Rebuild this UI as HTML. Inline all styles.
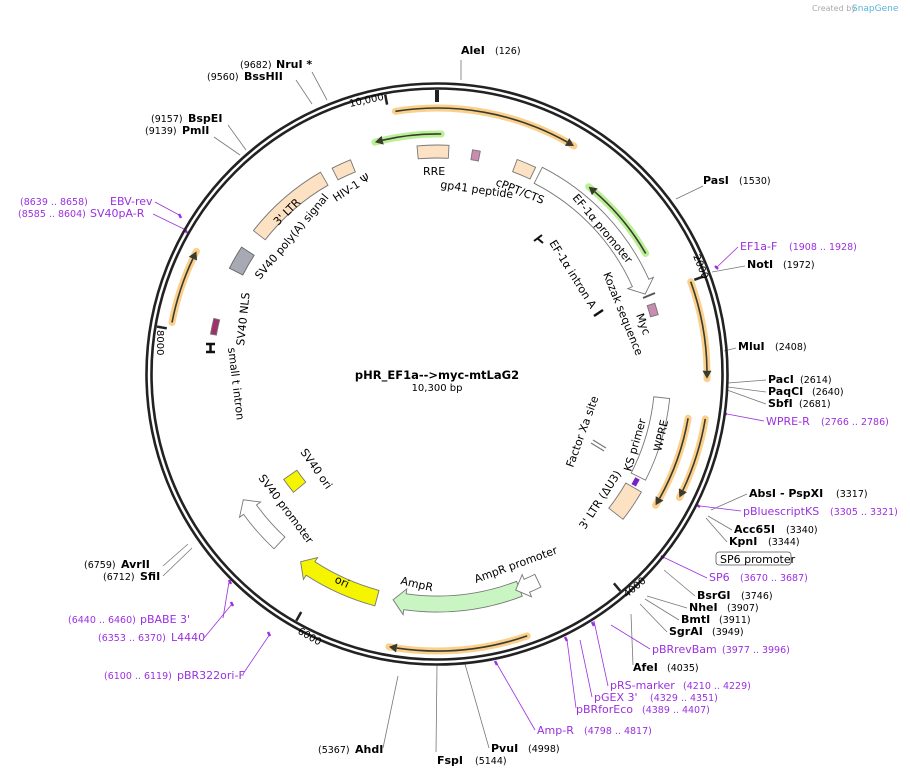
<!DOCTYPE html>
<html><head><meta charset="utf-8"><style>
body{margin:0;background:#fff;}
svg{display:block;font-family:"DejaVu Sans","Liberation Sans",sans-serif;}
.b{font-weight:bold;font-size:11px;fill:#000}
.n{font-size:9.5px;fill:#000}
.p{font-size:11px;fill:#9b30e0}
.pn{font-size:9.5px;fill:#9b30e0}
.f{font-size:11px;fill:#000}
</style></head><body>
<svg id="s" width="910" height="777" viewBox="0 0 910 777" xmlns="http://www.w3.org/2000/svg">
<text x="812" y="11" style="font-size:8px;fill:#aaa">Created by</text><text x="852" y="11" style="font-size:9px;fill:#5ab4d6">SnapGene</text>
<g id="lines" stroke="#777" stroke-width="0.8" fill="none">
<line x1="461" y1="60" x2="461" y2="80"/>
<line x1="296" y1="80" x2="312" y2="104"/><line x1="312" y1="72" x2="327" y2="100"/>
<line x1="228" y1="125" x2="246" y2="150"/><line x1="214" y1="137" x2="240" y2="155"/>
<line x1="703" y1="186" x2="676" y2="199"/>
<line x1="745" y1="266" x2="712" y2="272"/>
<line x1="736" y1="348" x2="724" y2="351"/>
<line x1="766" y1="380" x2="728" y2="383"/><line x1="766" y1="392" x2="728" y2="387"/><line x1="766" y1="404" x2="727" y2="390"/>
<line x1="747" y1="494" x2="711" y2="510"/><line x1="732" y1="530" x2="708" y2="516"/><line x1="727" y1="542" x2="706" y2="518"/>
<line x1="695" y1="596" x2="664" y2="570"/><line x1="687" y1="608" x2="647" y2="596"/><line x1="679" y1="620" x2="645" y2="599"/><line x1="667" y1="632" x2="640" y2="604"/>
<line x1="633" y1="665" x2="631" y2="614"/>
<line x1="436" y1="752" x2="437" y2="666"/><line x1="489" y1="748" x2="465" y2="664"/>
<line x1="383" y1="748" x2="398" y2="676"/>
<line x1="163" y1="576" x2="192" y2="548"/><line x1="163" y1="566" x2="188" y2="544"/>
</g>
<g stroke="#9b30e0" stroke-width="0.8" fill="none">
<line x1="155" y1="202" x2="181" y2="216"/><line x1="153" y1="214" x2="186" y2="230"/>
<line x1="738" y1="247" x2="716" y2="268"/>
<line x1="764" y1="421" x2="727" y2="414"/>
<line x1="741" y1="511" x2="700" y2="506"/>
<line x1="707" y1="578" x2="663" y2="557"/>
<line x1="650" y1="649" x2="611" y2="625"/><line x1="608" y1="686" x2="594" y2="621"/><line x1="592" y1="697" x2="580" y2="640"/><line x1="576" y1="708" x2="567" y2="640"/>
<line x1="535" y1="730" x2="497" y2="664"/>
<line x1="223" y1="618" x2="229" y2="582"/><line x1="204" y1="638" x2="232" y2="604"/><line x1="243" y1="674" x2="270" y2="634"/>
</g>
<g stroke="#9b30e0" stroke-width="2.5">
<line x1="179" y1="214" x2="181" y2="218"/><line x1="185" y1="229" x2="187" y2="233"/>
<line x1="715" y1="266" x2="718" y2="269"/><line x1="725" y1="414" x2="727" y2="414"/>
<line x1="697" y1="505" x2="700" y2="507"/><line x1="661" y1="556" x2="664" y2="558"/>
<line x1="592" y1="622" x2="594" y2="626"/><line x1="565" y1="637" x2="567" y2="641"/>
<line x1="495" y1="661" x2="497" y2="665"/><line x1="229" y1="580" x2="231" y2="584"/>
<line x1="231" y1="602" x2="233" y2="606"/><line x1="268" y1="632" x2="270" y2="636"/>
</g>
<circle cx="437" cy="374" r="290.5" fill="none" stroke="#222" stroke-width="2.6"/>
<circle cx="437" cy="374" r="285.5" fill="none" stroke="#222" stroke-width="2.6"/>
<g id="dyn"></g>
<text class="b" x="461" y="54">AleI</text><text class="n" x="495" y="54">(126)</text>
<text class="n" x="240" y="68">(9682)</text><text class="b" x="276" y="68">NruI *</text>
<text class="n" x="207" y="80">(9560)</text><text class="b" x="244" y="80">BssHII</text>
<text class="n" x="151" y="122">(9157)</text><text class="b" x="188" y="122">BspEI</text>
<text class="n" x="145" y="134">(9139)</text><text class="b" x="182" y="134">PmlI</text>
<text class="pn" x="20" y="205">(8639 .. 8658)</text><text class="p" x="110" y="205">EBV-rev</text>
<text class="pn" x="18" y="217">(8585 .. 8604)</text><text class="p" x="90" y="217">SV40pA-R</text>
<text class="b" x="703" y="184">PasI</text><text class="n" x="739" y="184">(1530)</text>
<text class="p" x="740" y="250">EF1a-F</text><text class="pn" x="789" y="250">(1908 .. 1928)</text>
<text class="b" x="747" y="268">NotI</text><text class="n" x="783" y="268">(1972)</text>
<text class="b" x="738" y="350">MluI</text><text class="n" x="775" y="350">(2408)</text>
<text class="b" x="768" y="383">PacI</text><text class="n" x="800" y="383">(2614)</text>
<text class="b" x="768" y="395">PaqCI</text><text class="n" x="812" y="395">(2640)</text>
<text class="b" x="768" y="407">SbfI</text><text class="n" x="799" y="407">(2681)</text>
<text class="p" x="766" y="425">WPRE-R</text><text class="pn" x="821" y="425">(2766 .. 2786)</text>
<text class="b" x="749" y="497">AbsI</text><text class="b" x="780" y="497">- PspXI</text><text class="n" x="836" y="497">(3317)</text>
<text class="p" x="743" y="515">pBluescriptKS</text><text class="pn" x="830" y="515">(3305 .. 3321)</text>
<text class="b" x="734" y="533">Acc65I</text><text class="n" x="786" y="533">(3340)</text>
<text class="b" x="729" y="545">KpnI</text><text class="n" x="768" y="545">(3344)</text>
<rect x="716" y="552" width="75" height="13" rx="3" fill="#fff" stroke="#555" stroke-width="0.8"/><text class="f" x="720" y="563">SP6 promoter</text>
<text class="p" x="709" y="581">SP6</text><text class="pn" x="740" y="581">(3670 .. 3687)</text>
<text class="b" x="697" y="599">BsrGI</text><text class="n" x="741" y="599">(3746)</text>
<text class="b" x="689" y="611">NheI</text><text class="n" x="727" y="611">(3907)</text>
<text class="b" x="681" y="623">BmtI</text><text class="n" x="719" y="623">(3911)</text>
<text class="b" x="669" y="635">SgrAI</text><text class="n" x="712" y="635">(3949)</text>
<text class="p" x="652" y="653">pBRrevBam</text><text class="pn" x="722" y="653">(3977 .. 3996)</text>
<text class="b" x="633" y="671">AfeI</text><text class="n" x="667" y="671">(4035)</text>
<text class="p" x="610" y="689">pRS-marker</text><text class="pn" x="683" y="689">(4210 .. 4229)</text>
<text class="p" x="594" y="701">pGEX 3'</text><text class="pn" x="650" y="701">(4329 .. 4351)</text>
<text class="p" x="576" y="713">pBRforEco</text><text class="pn" x="642" y="713">(4389 .. 4407)</text>
<text class="p" x="537" y="734">Amp-R</text><text class="pn" x="584" y="734">(4798 .. 4817)</text>
<text class="b" x="491" y="752">PvuI</text><text class="n" x="528" y="752">(4998)</text>
<text class="b" x="437" y="764">FspI</text><text class="n" x="475" y="764">(5144)</text>
<text class="n" x="318" y="753">(5367)</text><text class="b" x="355" y="753">AhdI</text>
<text class="pn" x="104" y="679">(6100 .. 6119)</text><text class="p" x="177" y="679">pBR322ori-F</text>
<text class="pn" x="98" y="641">(6353 .. 6370)</text><text class="p" x="171" y="641">L4440</text>
<text class="pn" x="68" y="623">(6440 .. 6460)</text><text class="p" x="140" y="623">pBABE 3'</text>
<text class="n" x="103" y="580">(6712)</text><text class="b" x="140" y="580">SfiI</text>
<text class="n" x="84" y="568">(6759)</text><text class="b" x="121" y="568">AvrII</text>
<text style="font-size:10px" transform="translate(350,107) rotate(-12)">10,000</text>
<text style="font-size:10px" transform="translate(693,256) rotate(68)">2000</text>
<text style="font-size:10px" transform="translate(627,598) rotate(-40)">4000</text>
<text style="font-size:10px" transform="translate(297,633) rotate(30)">6000</text>
<text style="font-size:10px" transform="translate(157,330) rotate(90)">8000</text>
<text x="437" y="379" text-anchor="middle" style="font-size:11.5px;font-weight:bold">pHR_EF1a--&gt;myc-mtLaG2</text>
<text x="437" y="391" text-anchor="middle" style="font-size:10px">10,300 bp</text>
<text class="f" x="423" y="175">RRE</text>
<text class="f" transform="translate(440,188) rotate(8)">gp41 peptide</text>
<text class="f" transform="translate(495,185) rotate(22)">cPPT/CTS</text>
<text class="f" transform="translate(572,198) rotate(50)">EF-1α promoter</text>
<text class="f" transform="translate(549,243) rotate(58)">EF-1α intron A</text>
<text class="f" transform="translate(603,274) rotate(68)">Kozak sequence</text>
<text class="f" transform="translate(636,315) rotate(70)">Myc</text>
<text class="f" transform="translate(661,452) rotate(-77)">WPRE</text>
<text class="f" transform="translate(631,472) rotate(-74)">KS primer</text>
<text class="f" transform="translate(573,468) rotate(-70)">Factor Xa site</text>
<text class="f" transform="translate(585,530) rotate(-57)">3' LTR (ΔU3)</text>
<text class="f" transform="translate(476,583) rotate(-20)">AmpR promoter</text>
<text class="f" transform="translate(400,584) rotate(13)">AmpR</text>
<text class="f" transform="translate(334,582) rotate(25)">ori</text>
<text class="f" transform="translate(258,478) rotate(53)">SV40 promoter</text>
<text class="f" transform="translate(300,452) rotate(55)">SV40 ori</text>
<text class="f" transform="translate(228,348) rotate(83)">small t intron</text>
<text class="f" transform="translate(244,346) rotate(-84)">SV40 NLS</text>
<text class="f" transform="translate(260,280) rotate(-50)">SV40 poly(A) signal</text>
<text class="f" transform="translate(278,226) rotate(-45)">3' LTR</text>
<text class="f" transform="translate(336,202) rotate(-33)">HIV-1 Ψ</text>
</svg>
<script>
var cx=437,cy=374,D=Math.PI/180,NS="http://www.w3.org/2000/svg",G=document.getElementById("dyn");
function P(a,r){return [cx+r*Math.sin(a*D),cy-r*Math.cos(a*D)];}
function S(p){return p[0].toFixed(1)+" "+p[1].toFixed(1);}
function el(t,at){var e=document.createElementNS(NS,t);for(var k in at)e.setAttribute(k,at[k]);G.appendChild(e);return e;}
function arcD(a1,a2,r){var l=Math.abs(a2-a1)>180?1:0,sw=a2>a1?1:0;return "M"+S(P(a1,r))+" A"+r+" "+r+" 0 "+l+" "+sw+" "+S(P(a2,r));}
function larc(a1,a2,r,halo){
 var h=8/r/D*(a2>a1?1:-1),b=a2-h;
 el("path",{d:arcD(a1,a2,r),stroke:halo,"stroke-width":7,fill:"none","stroke-linecap":"round","stroke-opacity":0.8});
 el("path",{d:arcD(a1,b,r),stroke:"#3a3a30","stroke-width":1.6,fill:"none"});
 el("path",{d:"M"+S(P(b,r-4.5))+" L"+S(P(a2,r))+" L"+S(P(b,r+4.5))+"Z",fill:"#3a3a30"});
}
larc(-9,31,266,"#f9c46e");
larc(1,-15,240,"#a8ec7a");
larc(60,39,241,"#a8ec7a");
larc(70,91,270,"#f9c46e");
larc(99.5,117,272,"#f9c46e");
larc(100,121,255,"#f9c46e");
larc(161,190,277,"#f9c46e");
larc(281,297,270,"#f9c46e");
function sec(a1,a2,r1,r2,fill,arrow,stroke){
 var d;
 if(!arrow){d="M"+S(P(a1,r2))+" "+arcD(a1,a2,r2).replace(/^M[^A]*/,"")+" L"+S(P(a2,r1))+" "+arcD(a2,a1,r1).replace(/^M[^A]*/,"")+"Z";}
 else{var rm=(r1+r2)/2,h=12/rm/D*(a2>a1?1:-1),b=a2-h;
 d="M"+S(P(a1,r2))+" "+arcD(a1,b,r2).replace(/^M[^A]*/,"")+" L"+S(P(b,r2+5))+" L"+S(P(a2,rm))+" L"+S(P(b,r1-5))+" L"+S(P(b,r1))+" "+arcD(b,a1,r1).replace(/^M[^A]*/,"")+"Z";}
 el("path",{d:d,fill:fill,stroke:stroke||"#777","stroke-width":0.9});
}
sec(-5,3,216,229,"#fde1c3");
sec(20.5,25.5,216,229,"#fde1c3");
sec(-27,-22,218,231,"#fde1c3");
sec(-52,-30,218,233,"#fde1c3");
sec(-63,-57,218,233,"#a7aab3","", "#666");
sec(27,69,214,232,"#fff",1);
sec(9,11,217,227,"#c98bb0");
sec(72,75,221,229,"#c98bb0");
sec(96,117,218,234,"#fff");
sec(120,128,218,236,"#fde1c3");
sec(159,191,222,238,"#c9f5c3",1);
sec(154,160,223,237,"#fff",1);
sec(195,216,224,240,"#f5f500",1);
sec(223,237,223,239,"#fff",1);
sec(230.5,235.5,170,186,"#f5f500");
sec(280,284,224,230,"#a0306a");
el("path",{d:"M"+S(P(117.5,226))+" L"+S(P(119.5,226)),stroke:"#7a20c8","stroke-width":5});
el("path",{d:"M206 344 L215 344 M206 352 L215 352 M210.5 344 L210.5 352",stroke:"#111","stroke-width":2.5,fill:"none"});
el("path",{d:"M593 440 L606 448 M591 443 L604 451",stroke:"#777","stroke-width":1.2});
el("path",{d:"M534 241 L542 235 M537 238 L543 243",stroke:"#111","stroke-width":2});
el("path",{d:"M594 316 L603 310",stroke:"#111","stroke-width":2.5});
el("path",{d:"M643 298 L655 293",stroke:"#555","stroke-width":2});
[[0,3],[349.5,1.5],[69.9,1.5],[139.8,1.5],[209.7,1.5],[279.6,1.5]].forEach(function(t){
 el("path",{d:"M"+S(P(t[0],284))+" L"+S(P(t[0],t[0]==0?272:274)),stroke:"#222","stroke-width":t[1]+1});
});
</script>
</body></html>
